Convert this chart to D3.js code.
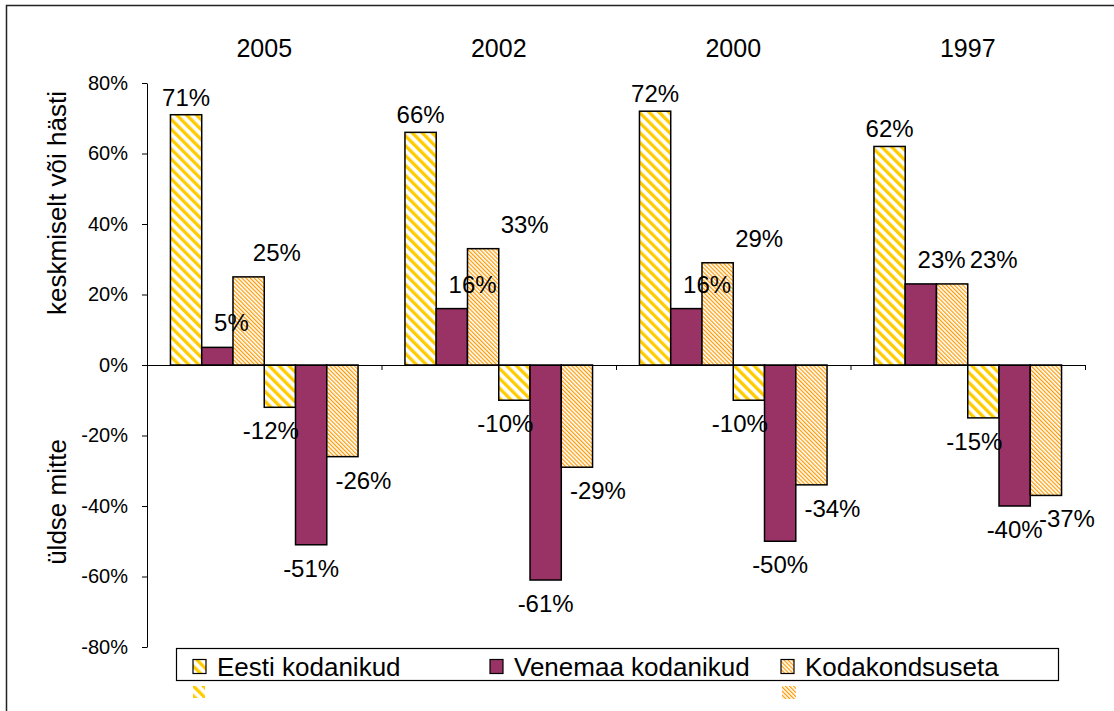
<!DOCTYPE html>
<html>
<head>
<meta charset="utf-8">
<script src="https://cdn.jsdelivr.net/npm/d3@7"></script>
<style>
  body { margin: 0; background: #fff; }
  svg { display: block; font-family: "Liberation Sans", Arial, sans-serif; }
</style>
</head>
<body>
<svg width="1114" height="711"></svg>
<script>
// *** DATA ***
const years = ["2005", "2002", "2000", "1997"];
const seriesNames = ["Eesti kodanikud", "Venemaa kodanikud", "Kodakondsuseta"];
// keskmiselt või hästi
const eestiGood = [71, 66, 72, 62];
const venemaaGood = [5, 16, 16, 23];
const kodakGood = [25, 33, 29, 23];
// üldse mitte
const eestiBad = [-12, -10, -10, -15];
const venemaaBad = [-51, -61, -50, -40];
const kodakBad = [-26, -29, -34, -37];
const yTicks = [80, 60, 40, 20, 0, -20, -40, -60, -80];

const svg = d3.select("svg");
const width = +svg.attr("width");
const height = +svg.attr("height");

const margin = { left: 147, right: 29, top: 83, bottom: 64 };
const plotRight = width - margin.right;
const plotBottom = height - margin.bottom;

// six bar slots per year: 3 positive, 3 negative
const slots = ["eG", "vG", "kG", "eB", "vB", "kB"];
const slotSeries = [0, 1, 2, 0, 1, 2];
const slotValues = [eestiGood, venemaaGood, kodakGood, eestiBad, venemaaBad, kodakBad];

const x0 = d3.scaleBand()
    .domain(years)
    .range([margin.left, plotRight])
    .paddingInner(0.2)
    .paddingOuter(0.1);

const x1 = d3.scaleBand()
    .domain(slots)
    .range([0, x0.bandwidth()]);

const y = d3.scaleLinear()
    .domain([-80, 80])
    .range([plotBottom, margin.top]);

// patterns
const defs = svg.append("defs");
function stripePattern(id, size, stripe, color) {
    const p = defs.append("pattern")
        .attr("id", id)
        .attr("patternUnits", "userSpaceOnUse")
        .attr("width", size)
        .attr("height", size)
        .attr("patternTransform", "rotate(-45)");
    p.append("rect").attr("width", size).attr("height", size).attr("fill", "#fff");
    p.append("rect").attr("width", stripe).attr("height", size).attr("fill", color);
}
stripePattern("pEesti", 7, 3.3, "#FFCC00");
stripePattern("pKodak", 2.9, 1.2, "#FF9900");
const fills = ["url(#pEesti)", "#993366", "url(#pKodak)"];

// outer frame
svg.append("rect")
    .attr("x", 6.5).attr("y", 5.5)
    .attr("width", width + 20).attr("height", height + 20)
    .attr("fill", "none")
    .attr("stroke", "#222")
    .attr("stroke-width", 1.5);

// year titles
svg.selectAll(".year")
    .data(years)
    .enter().append("text")
    .attr("x", d => x0(d) + x0.bandwidth() / 2)
    .attr("y", 57)
    .attr("text-anchor", "middle")
    .style("font-size", "25px")
    .text(d => d);

// bars
const bars = [];
years.forEach((yr, i) => {
    slots.forEach((s, j) => {
        bars.push({ year: yr, slot: s, series: slotSeries[j], value: slotValues[j][i] });
    });
});

svg.selectAll(".bar")
    .data(bars)
    .enter().append("rect")
    .attr("x", d => x0(d.year) + x1(d.slot))
    .attr("y", d => y(Math.max(0, d.value)))
    .attr("width", x1.bandwidth())
    .attr("height", d => Math.abs(y(d.value) - y(0)))
    .attr("fill", d => fills[d.series])
    .attr("stroke", "#000")
    .attr("stroke-width", 1.5);

// y axis
const yAxis = svg.append("g")
    .attr("transform", `translate(${margin.left},0)`)
    .call(d3.axisLeft(y)
        .tickValues(yTicks)
        .tickSize(5)
        .tickSizeOuter(0)
        .tickPadding(14)
        .tickFormat(d => d + "%"));
yAxis.selectAll("text")
    .style("font-size", "20px")
    .style("font-family", "'Liberation Sans', Arial, sans-serif")
    .attr("fill", "#000");
yAxis.selectAll("line, path").attr("stroke", "#000");

// zero line with category ticks
const xb = d3.scaleLinear().domain([0, years.length]).range([margin.left, plotRight]);
const xAxis = svg.append("g")
    .attr("transform", `translate(0,${y(0)})`)
    .call(d3.axisBottom(xb)
        .tickValues(d3.range(1, years.length + 1))
        .tickSize(5)
        .tickSizeOuter(0)
        .tickFormat(""));
xAxis.selectAll("line, path").attr("stroke", "#000");

// value labels
const labels = svg.append("g").style("font-size", "24px");
years.forEach(yr => {
    const group = bars.filter(b => b.year === yr);
    let lastRight = -Infinity;
    group.forEach(d => {
        const cx = x0(d.year) + x1(d.slot) + x1.bandwidth() / 2;
        let dx = 0, ty;
        if (d.value >= 0) {
            dx = d.series === 1 ? 10 : 0;
            ty = y(d.value) - (d.series === 0 ? 9 : 16);
        } else {
            dx = d.series === 0 ? -9 : d.series === 2 ? 21 : 0;
            ty = y(d.value) + 32;
        }
        const t = labels.append("text")
            .attr("text-anchor", "middle")
            .attr("y", ty)
            .text(d.value + "%");
        const w = t.node().getComputedTextLength();
        let lx = cx + dx;
        if (d.value >= 0 && lx - w / 2 < lastRight + 2) lx = lastRight + 4 + w / 2;
        if (d.value >= 0) lastRight = lx + w / 2;
        t.attr("x", lx);
    });
});

// axis titles
svg.append("text")
    .attr("transform", `translate(66,203) rotate(-90)`)
    .attr("text-anchor", "middle")
    .style("font-size", "26px")
    .text("keskmiselt või hästi");
svg.append("text")
    .attr("transform", `translate(66,502) rotate(-90)`)
    .attr("text-anchor", "middle")
    .style("font-size", "26px")
    .text("üldse mitte");

// legend
const legend = svg.append("g");
legend.append("rect")
    .attr("x", 176.5).attr("y", 648.5)
    .attr("width", 882).attr("height", 32)
    .attr("fill", "#fff")
    .attr("stroke", "#000")
    .attr("stroke-width", 1.2);
const legendX = [193, 490, 781];
seriesNames.forEach((name, i) => {
    legend.append("rect")
        .attr("x", legendX[i]).attr("y", 659.5)
        .attr("width", 13).attr("height", 14)
        .attr("fill", fills[i])
        .attr("stroke", "#000")
        .attr("stroke-width", 1.2);
    legend.append("text")
        .attr("x", legendX[i] + 24)
        .attr("y", 676)
        .style("font-size", "26px")
        .text(name);
});
// stray key pieces under the legend box
legend.append("rect").attr("x", 193).attr("y", 686).attr("width", 12).attr("height", 12).attr("fill", fills[0]);
legend.append("rect").attr("x", 782).attr("y", 686).attr("width", 14).attr("height", 13).attr("fill", fills[2]);
</script>
</body>
</html>
